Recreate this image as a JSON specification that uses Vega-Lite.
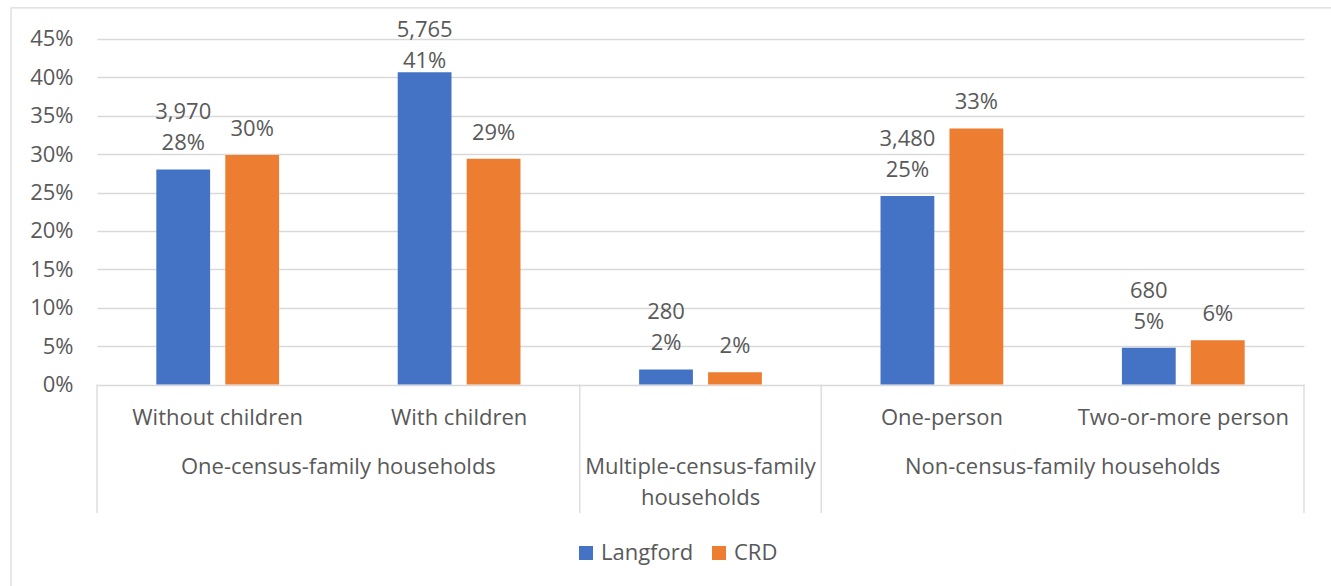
{
  "$schema": "https://vega.github.io/schema/vega-lite/v6.json",
  "width": 1207,
  "height": 345.6,
  "autosize": {"type": "none"},
  "padding": {"left": 97, "top": 39, "right": 27, "bottom": 201},
  "background": "white",
  "config": {
    "view": {"stroke": null},
    "font": "Open Sans",
    "text": {"font": "Open Sans", "fontSize": 22, "color": "#595959"}
  },
  "resolve": {"axis": {"x": "independent", "y": "independent"}},
  "datasets": {
    "shares": [
      {"cat": "Without children", "series": "Langford", "share": 0.2801, "count": 3970},
      {"cat": "Without children", "series": "CRD", "share": 0.299},
      {"cat": "With children", "series": "Langford", "share": 0.4067, "count": 5765},
      {"cat": "With children", "series": "CRD", "share": 0.294},
      {"cat": "Multiple-census-family households", "series": "Langford", "share": 0.0198, "count": 280},
      {"cat": "Multiple-census-family households", "series": "CRD", "share": 0.016},
      {"cat": "One-person", "series": "Langford", "share": 0.2455, "count": 3480},
      {"cat": "One-person", "series": "CRD", "share": 0.3335},
      {"cat": "Two-or-more person", "series": "Langford", "share": 0.048, "count": 680},
      {"cat": "Two-or-more person", "series": "CRD", "share": 0.0578}
    ]
  },
  "layer": [
    {
      "data": {"name": "shares"},
      "mark": {"type": "bar"},
      "encoding": {
        "x": {"field": "cat", "type": "nominal",
              "scale": {"domain": ["Without children", "With children", "Multiple-census-family households", "One-person", "Two-or-more person"], "paddingInner": 0, "paddingOuter": 0},
              "axis": null},
        "xOffset": {"field": "series", "type": "nominal",
                    "scale": {"domain": ["Langford", "CRD"], "paddingInner": 0.22, "paddingOuter": 0.86}},
        "y": {"field": "share", "type": "quantitative",
              "scale": {"domain": [0, 0.45], "nice": false, "zero": false},
              "axis": {"values": [0, 0.05, 0.1, 0.15, 0.2, 0.25, 0.3, 0.35, 0.4, 0.45], "format": ".0%",
                       "title": null, "domain": false, "ticks": false, "grid": true,
                       "labelOverlap": false, "labelBound": false, "labelFlush": false,
                       "gridColor": "#d9d9d9", "gridWidth": 1.3, "labelFont": "Open Sans",
                       "labelFontSize": 22, "labelColor": "#595959", "labelPadding": 24}},
        "color": {"field": "series", "type": "nominal",
                  "scale": {"domain": ["Langford", "CRD"], "range": ["#4472C4", "#ED7D31"]},
                  "legend": {"title": null, "orient": "none", "direction": "horizontal",
                             "legendX": 478, "legendY": 503, "symbolType": "square", "symbolSize": 196,
                             "symbolStrokeWidth": 0, "labelFont": "Open Sans", "labelFontSize": 22,
                             "labelColor": "#595959", "labelOffset": 4, "columnPadding": 14}}
      }
    },
    {
      "data": {"values": [{}]},
      "mark": {"type": "rect", "fill": null, "stroke": "#d9d9d9", "strokeWidth": 1.2},
      "encoding": {
        "x": {"datum": "Without children", "type": "nominal", "bandPosition": -0.356, "axis": null},
        "x2": {"datum": "Two-or-more person", "bandPosition": 1.3},
        "y": {"datum": 0.4904, "type": "quantitative", "axis": null},
        "y2": {"datum": -0.4}
      }
    },
    {
      "data": {"name": "shares"},
      "transform": [
        {"filter": "datum.series === 'CRD'"},
        {"calculate": "format(datum.share, '.0%')", "as": "label"}
      ],
      "mark": {"type": "text", "baseline": "alphabetic", "dy": -19},
      "encoding": {
        "x": {"field": "cat", "type": "nominal", "axis": null},
        "xOffset": {"field": "series", "type": "nominal"},
        "y": {"field": "share", "type": "quantitative", "axis": null},
        "text": {"field": "label"}
      }
    },
    {
      "data": {"name": "shares"},
      "transform": [
        {"filter": "datum.series === 'Langford' && datum.cat !== 'With children'"},
        {"calculate": "format(datum.count, ',') + '\\n' + format(datum.share, '.0%')", "as": "label"}
      ],
      "mark": {"type": "text", "baseline": "alphabetic", "dy": -50, "lineBreak": "\n", "lineHeight": 31},
      "encoding": {
        "x": {"field": "cat", "type": "nominal", "axis": null},
        "xOffset": {"field": "series", "type": "nominal"},
        "y": {"field": "share", "type": "quantitative", "axis": null},
        "text": {"field": "label"}
      }
    },
    {
      "data": {"name": "shares"},
      "transform": [
        {"filter": "datum.series === 'Langford' && datum.cat === 'With children'"},
        {"calculate": "format(datum.count, ',') + '\\n' + format(datum.share, '.0%')", "as": "label"}
      ],
      "mark": {"type": "text", "baseline": "alphabetic", "dy": -35, "lineBreak": "\n", "lineHeight": 31},
      "encoding": {
        "x": {"field": "cat", "type": "nominal", "axis": null},
        "xOffset": {"field": "series", "type": "nominal"},
        "y": {"field": "share", "type": "quantitative", "axis": null},
        "text": {"field": "label"}
      }
    },
    {
      "data": {"values": [
        {"edge": "Without children"},
        {"edge": "Multiple-census-family households"},
        {"edge": "One-person"}
      ]},
      "mark": {"type": "rule", "color": "#d9d9d9", "strokeWidth": 1.3},
      "encoding": {
        "x": {"field": "edge", "type": "nominal", "bandPosition": 0, "axis": null},
        "y": {"datum": 0, "type": "quantitative", "axis": null},
        "y2": {"datum": -0.1672}
      }
    },
    {
      "data": {"values": [{"edge": "Two-or-more person"}]},
      "mark": {"type": "rule", "color": "#d9d9d9", "strokeWidth": 1.3},
      "encoding": {
        "x": {"field": "edge", "type": "nominal", "bandPosition": 1, "axis": null},
        "y": {"datum": 0, "type": "quantitative", "axis": null},
        "y2": {"datum": -0.1672}
      }
    },
    {
      "data": {"values": [
        {"cat": "Without children"},
        {"cat": "With children"},
        {"cat": "One-person"},
        {"cat": "Two-or-more person"}
      ]},
      "mark": {"type": "text", "baseline": "alphabetic"},
      "encoding": {
        "x": {"field": "cat", "type": "nominal", "axis": null},
        "y": {"datum": -0.0526, "type": "quantitative", "axis": null},
        "text": {"field": "cat"}
      }
    },
    {
      "data": {"values": [
        {"anchor": "With children", "group": "One-census-family households"},
        {"anchor": "Two-or-more person", "group": "Non-census-family households"}
      ]},
      "mark": {"type": "text", "baseline": "alphabetic"},
      "encoding": {
        "x": {"field": "anchor", "type": "nominal", "bandPosition": 0, "axis": null},
        "y": {"datum": -0.1168, "type": "quantitative", "axis": null},
        "text": {"field": "group"}
      }
    },
    {
      "data": {"values": [
        {"anchor": "Multiple-census-family households", "group": "Multiple-census-family\nhouseholds"}
      ]},
      "mark": {"type": "text", "baseline": "alphabetic", "lineBreak": "\n", "lineHeight": 31},
      "encoding": {
        "x": {"field": "anchor", "type": "nominal", "bandPosition": 0.5, "axis": null},
        "y": {"datum": -0.1168, "type": "quantitative", "axis": null},
        "text": {"field": "group"}
      }
    }
  ]
}
